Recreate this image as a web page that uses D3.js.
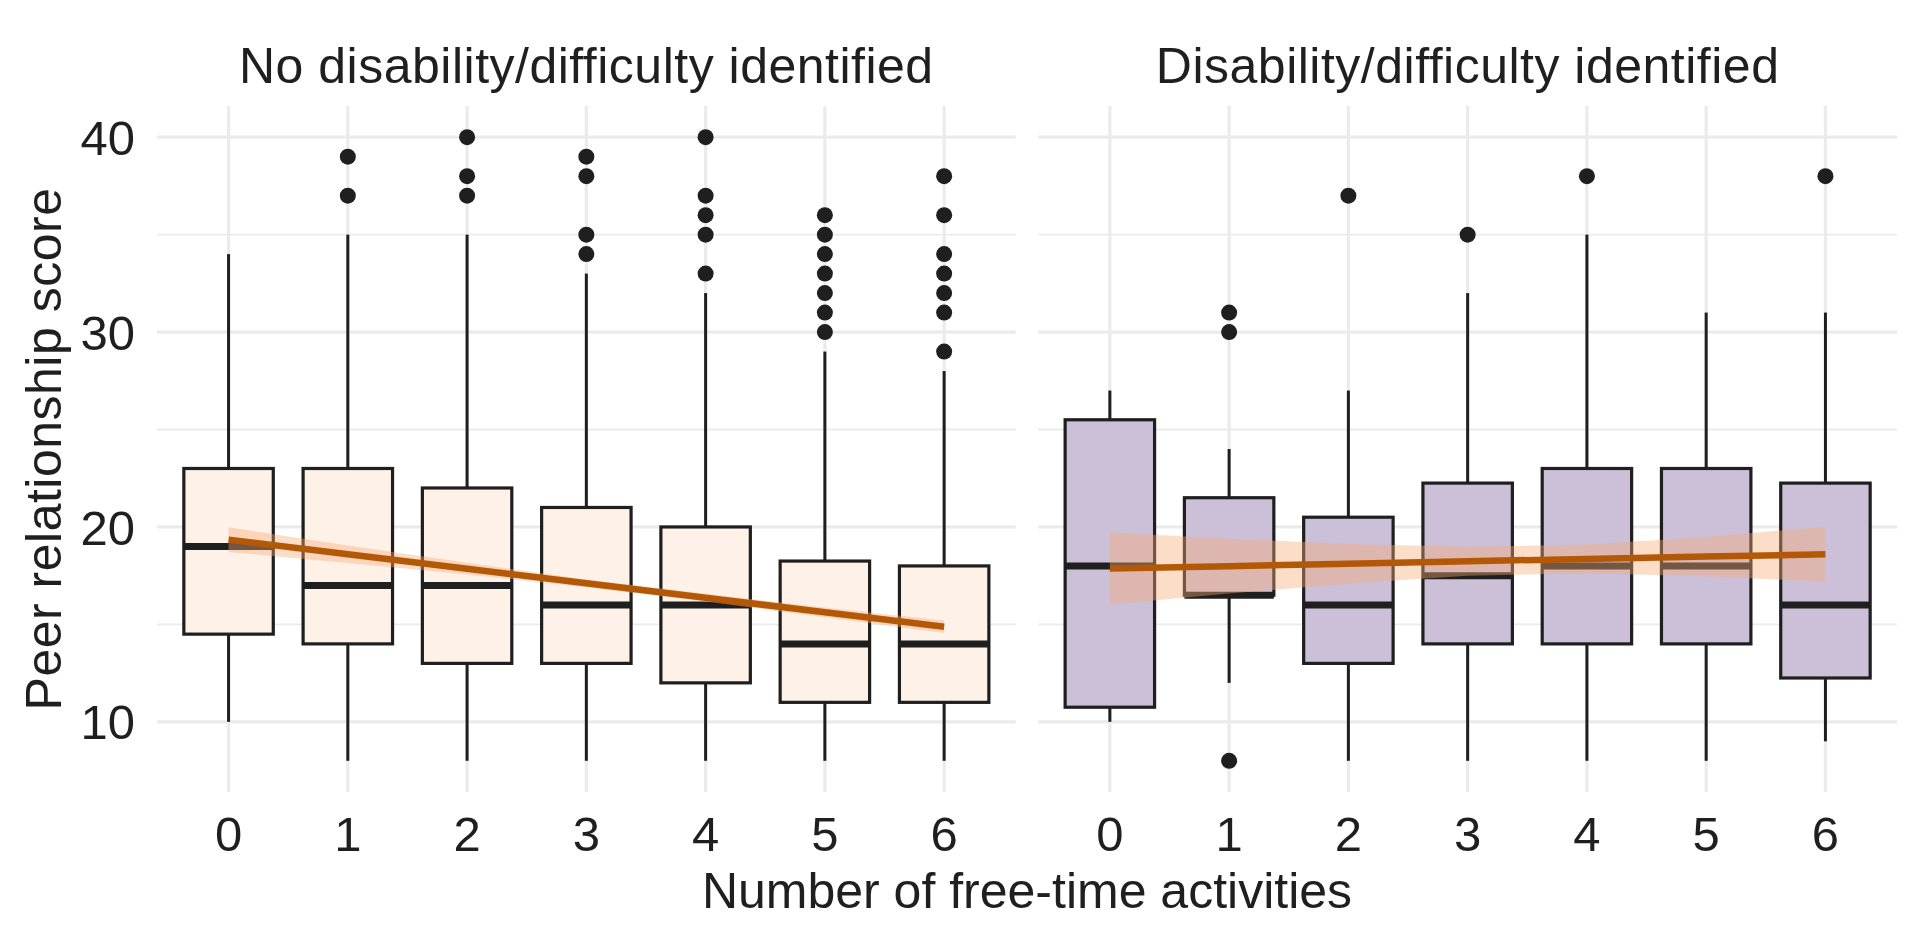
<!DOCTYPE html>
<html>
<head>
<meta charset="utf-8">
<script src="https://cdn.jsdelivr.net/npm/d3@7"></script>
<style>
    body { margin: 0; background: #fff; }
    svg text { font-family: "Liberation Sans", Arial, sans-serif; fill: #1f1f1f; }
</style>
</head>
<body>
<svg id="chart"></svg>
<script>
const activities = ["0", "1", "2", "3", "4", "5", "6"];
const panelTitles = ["No disability/difficulty identified", "Disability/difficulty identified"];
const yTicks = [10, 20, 30, 40];
const yMinor = [15, 25, 35];

// No disability/difficulty identified
const noDisLower = [10, 8, 8, 8, 8, 8, 8];
const noDisQ1 = [14.5, 14, 13, 13, 12, 11, 11];
const noDisMedian = [19, 17, 17, 16, 16, 14, 14];
const noDisQ3 = [23, 23, 22, 21, 20, 18.25, 18];
const noDisUpper = [34, 35, 35, 33, 32, 29, 28];
const noDisOutliers = [[], [37, 39], [37, 38, 40], [34, 35, 38, 39], [33, 35, 36, 37, 40],
    [30, 31, 32, 33, 34, 35, 36], [29, 31, 32, 33, 34, 36, 38]];
const noDisFit = [19.35, 18.6, 17.86, 17.11, 16.37, 15.62, 14.88];
const noDisFitLo = [18.72, 18.15, 17.56, 16.91, 16.17, 15.37, 14.56];
const noDisFitHi = [19.98, 19.05, 18.16, 17.31, 16.57, 15.87, 15.2];

// Disability/difficulty identified
const disLower = [10, 12, 8, 8, 8, 8, 9];
const disQ1 = [10.75, 16.5, 13, 14, 14, 14, 12.25];
const disMedian = [18, 16.5, 16, 17.5, 18, 18, 16];
const disQ3 = [25.5, 21.5, 20.5, 22.25, 23, 23, 22.25];
const disUpper = [27, 24, 27, 32, 35, 31, 31];
const disOutliers = [[], [8, 30, 31], [37], [35], [38], [], [38]];
const disFit = [17.87, 17.99, 18.11, 18.24, 18.36, 18.48, 18.6];
const disFitLo = [16.02, 16.58, 17.1, 17.5, 17.62, 17.47, 17.19];
const disFitHi = [19.72, 19.4, 19.12, 18.98, 19.1, 19.49, 20.01];

(function () {
    const width = 1920;
    const height = 948;
    const panelTop = 106;
    const panelBottom = 792;
    const panelX = [[157, 1015.7], [1038.3, 1897]];
    const fills = ["#fdf1e8", "#ccbfd8"];
    const ink = "#1f1f1f";
    const grid = "#ebebeb";

    const panels = [
        { lower: noDisLower, q1: noDisQ1, med: noDisMedian, q3: noDisQ3, upper: noDisUpper,
          out: noDisOutliers, fit: noDisFit, lo: noDisFitLo, hi: noDisFitHi },
        { lower: disLower, q1: disQ1, med: disMedian, q3: disQ3, upper: disUpper,
          out: disOutliers, fit: disFit, lo: disFitLo, hi: disFitHi }
    ];

    const svg = d3.select("#chart")
        .attr("width", width)
        .attr("height", height);

    const y = d3.scaleLinear()
        .domain([6.4, 41.6])
        .range([panelBottom, panelTop]);

    panels.forEach((p, i) => {
        const x = d3.scalePoint()
            .domain(activities)
            .range(panelX[i])
            .padding(0.6);
        const boxW = x.step() * 0.75;

        const rows = activities.map((a, j) => ({
            a: a, lower: p.lower[j], q1: p.q1[j], med: p.med[j], q3: p.q3[j],
            upper: p.upper[j], out: p.out[j], fit: p.fit[j], lo: p.lo[j], hi: p.hi[j]
        }));

        const g = svg.append("g");

        // grid
        g.selectAll(".minor")
            .data(yMinor)
            .enter().append("line")
            .attr("x1", panelX[i][0]).attr("x2", panelX[i][1])
            .attr("y1", d => y(d)).attr("y2", d => y(d))
            .attr("stroke", grid).attr("stroke-width", 1.8);
        g.selectAll(".major")
            .data(yTicks)
            .enter().append("line")
            .attr("x1", panelX[i][0]).attr("x2", panelX[i][1])
            .attr("y1", d => y(d)).attr("y2", d => y(d))
            .attr("stroke", grid).attr("stroke-width", 3.2);
        g.selectAll(".vgrid")
            .data(activities)
            .enter().append("line")
            .attr("x1", d => x(d)).attr("x2", d => x(d))
            .attr("y1", panelTop).attr("y2", panelBottom)
            .attr("stroke", grid).attr("stroke-width", 3.2);

        // strip title
        svg.append("text")
            .attr("x", (panelX[i][0] + panelX[i][1]) / 2)
            .attr("y", 83)
            .attr("text-anchor", "middle")
            .style("font-size", "50px")
            .style("letter-spacing", "0.5px")
            .text(panelTitles[i]);

        // x tick labels
        svg.append("g")
            .selectAll("text")
            .data(activities)
            .enter().append("text")
            .attr("x", d => x(d))
            .attr("y", 851)
            .attr("text-anchor", "middle")
            .style("font-size", "49px")
            .text(d => d);

        // boxplots
        const box = g.selectAll(".box")
            .data(rows)
            .enter().append("g");

        box.append("line")
            .attr("x1", d => x(d.a)).attr("x2", d => x(d.a))
            .attr("y1", d => y(d.q3)).attr("y2", d => y(d.upper))
            .attr("stroke", ink).attr("stroke-width", 3);
        box.append("line")
            .attr("x1", d => x(d.a)).attr("x2", d => x(d.a))
            .attr("y1", d => y(d.q1)).attr("y2", d => y(d.lower))
            .attr("stroke", ink).attr("stroke-width", 3);
        box.append("rect")
            .attr("x", d => x(d.a) - boxW / 2)
            .attr("width", boxW)
            .attr("y", d => y(d.q3))
            .attr("height", d => y(d.q1) - y(d.q3))
            .attr("fill", fills[i])
            .attr("stroke", ink).attr("stroke-width", 3.2);
        box.append("line")
            .attr("x1", d => x(d.a) - boxW / 2).attr("x2", d => x(d.a) + boxW / 2)
            .attr("y1", d => y(d.med)).attr("y2", d => y(d.med))
            .attr("stroke", ink).attr("stroke-width", 7);
        box.selectAll("circle")
            .data(d => d.out.map(v => ({ a: d.a, v: v })))
            .enter().append("circle")
            .attr("cx", d => x(d.a))
            .attr("cy", d => y(d.v))
            .attr("r", 8)
            .attr("fill", ink);

        // linear fit with confidence band
        g.append("path")
            .datum(rows)
            .attr("fill", "rgb(247,170,118)")
            .attr("fill-opacity", 0.4)
            .attr("d", d3.area()
                .x(d => x(d.a))
                .y0(d => y(d.lo))
                .y1(d => y(d.hi)));
        g.append("path")
            .datum(rows)
            .attr("fill", "none")
            .attr("stroke", "#b35806")
            .attr("stroke-width", 6.5)
            .attr("d", d3.line()
                .x(d => x(d.a))
                .y(d => y(d.fit)));
    });

    // y axis labels (left panel only)
    svg.append("g")
        .selectAll("text")
        .data(yTicks)
        .enter().append("text")
        .attr("x", 135)
        .attr("y", d => y(d))
        .attr("dy", "0.36em")
        .attr("text-anchor", "end")
        .style("font-size", "49px")
        .text(d => d);

    // axis titles
    svg.append("text")
        .attr("x", (panelX[0][0] + panelX[1][1]) / 2)
        .attr("y", 908)
        .attr("text-anchor", "middle")
        .style("font-size", "50px")
        .text("Number of free-time activities");

    svg.append("text")
        .attr("transform", `translate(61,${(panelTop + panelBottom) / 2}) rotate(-90)`)
        .attr("text-anchor", "middle")
        .style("font-size", "50px")
        .style("letter-spacing", "0.5px")
        .text("Peer relationship score");
})();
</script>
</body>
</html>
